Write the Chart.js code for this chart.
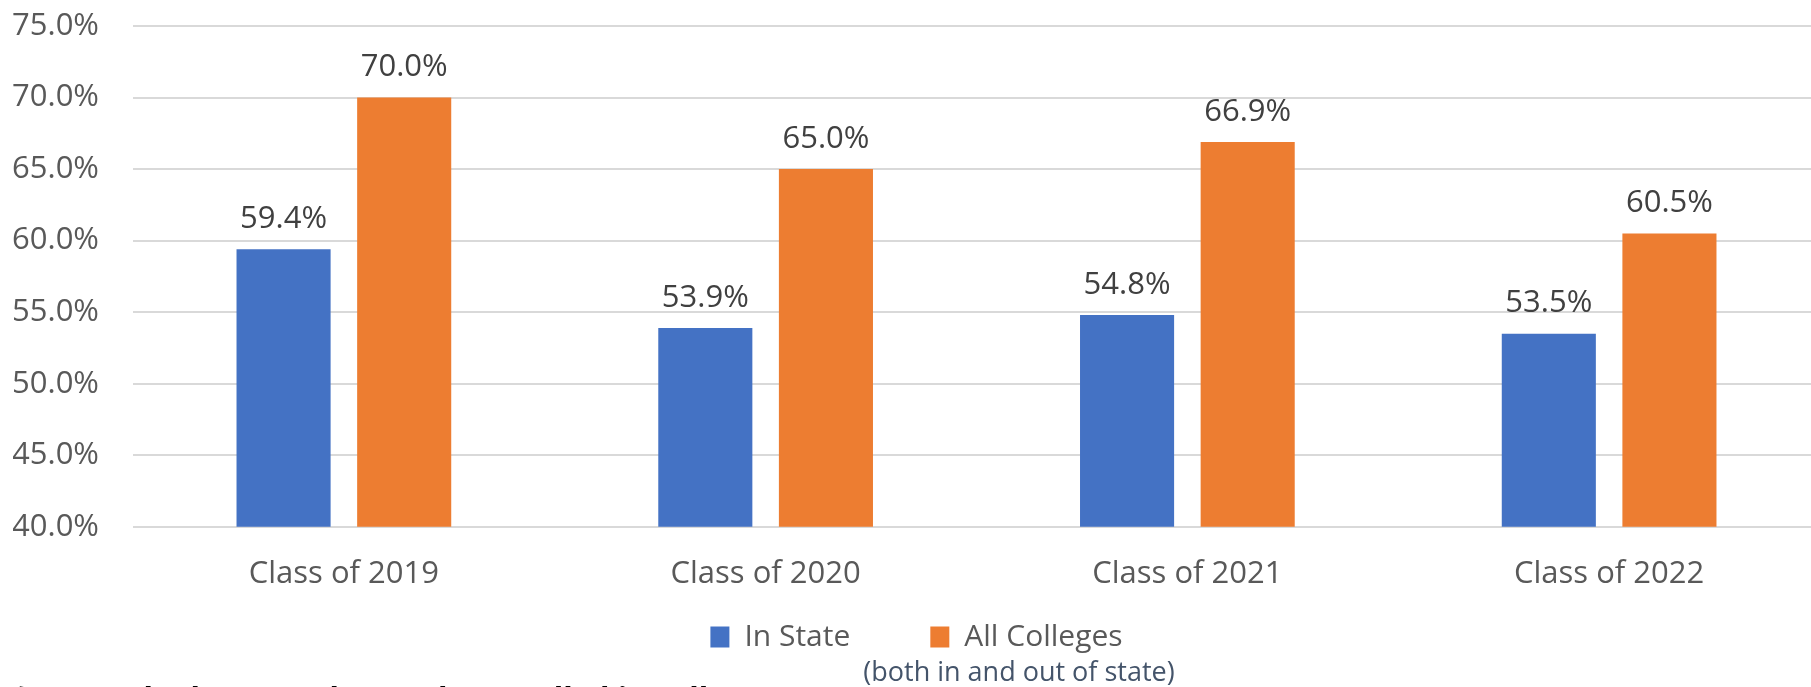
<!DOCTYPE html>
<html>
<head>
<meta charset="utf-8">
<script src="https://cdn.jsdelivr.net/npm/chart.js@4.4.1/dist/chart.umd.min.js"></script>
<style>
  html, body { margin: 0; padding: 0; background: #fff; overflow: hidden; }
  #wrap { position: relative; width: 1820px; height: 750px; }
  .note { position: absolute; font-family: "Open Sans", sans-serif; white-space: nowrap; }
  #sub { left: 1019px; top: 652px; transform: translateX(-50%); font-size: 27px; color: #44546A; }
  #foot { left: 10px; top: 677px; font-size: 32px; font-weight: bold; font-style: italic; color: #000; }
</style>
</head>
<body>
<div id="wrap">
  <canvas id="chart"></canvas>
  <div class="note" id="sub">(both in and out of state)</div>
  <div class="note" id="foot">* THECB looks at students who enrolled in college</div>
</div>
<script>
const categories = ['Class of 2019', 'Class of 2020', 'Class of 2021', 'Class of 2022'];
const inState = [59.4, 53.9, 54.8, 53.5];
const allColleges = [70.0, 65.0, 66.9, 60.5];
const yTicks = [40, 45, 50, 55, 60, 65, 70, 75];

const BLUE = '#4472C4';
const ORANGE = '#ED7D31';

// values above the bars
const barLabels = {
    id: 'barLabels',
    afterDatasetsDraw(chart) {
        const ctx = chart.ctx;
        ctx.save();
        ctx.font = '31px "Open Sans"';
        ctx.fillStyle = '#404040';
        ctx.textAlign = 'center';
        ctx.textBaseline = 'middle';
        chart.data.datasets.forEach((ds, i) => {
            chart.getDatasetMeta(i).data.forEach((bar, j) => {
                ctx.fillText(ds.data[j].toFixed(1) + '%', bar.x, bar.y - 30);
            });
        });
        ctx.restore();
    }
};

// legend padding is big for the gap between items, pull it back up under the axis
const legendShift = {
    id: 'legendShift',
    afterLayout(chart) {
        const lg = chart.legend;
        lg.top -= 80;
        lg.bottom -= 80;
    }
};

new Chart(document.getElementById('chart'), {
    type: 'bar',
    data: {
        labels: categories,
        datasets: [
            { label: 'In State', data: inState, backgroundColor: BLUE },
            { label: 'All Colleges', data: allColleges, backgroundColor: ORANGE }
        ]
    },
    options: {
        responsive: true,
        maintainAspectRatio: false,
        animation: false,
        categoryPercentage: 0.572,
        barPercentage: 0.78,
        layout: { padding: { top: 0, left: 13, right: 0, bottom: 8 } },
        scales: {
            x: {
                grid: { display: false, drawTicks: false },
                border: { display: false },
                ticks: { color: '#595959', font: { family: 'Open Sans', size: 31 }, padding: 29, maxRotation: 0 }
            },
            y: {
                min: 40,
                max: 75,
                afterBuildTicks(scale) { scale.ticks = yTicks.map(v => ({ value: v })); },
                grid: { color: '#D9D9D9', lineWidth: 2, drawTicks: false },
                border: { display: false },
                ticks: {
                    color: '#595959',
                    font: { family: 'Open Sans', size: 31 },
                    padding: 34,
                    callback: v => v.toFixed(1) + '%'
                },
                afterFit(scale) {
                    scale.width = 120;
                    scale.paddingTop = 26;
                    scale.paddingBottom = 19;
                }
            }
        },
        plugins: {
            legend: {
                position: 'bottom',
                labels: {
                    color: '#595959',
                    font: { family: 'Open Sans', size: 30 },
                    boxWidth: 19,
                    boxHeight: 21,
                    padding: 80
                }
            },
            tooltip: { enabled: false }
        }
    },
    plugins: [barLabels, legendShift]
});
</script>
</body>
</html>
